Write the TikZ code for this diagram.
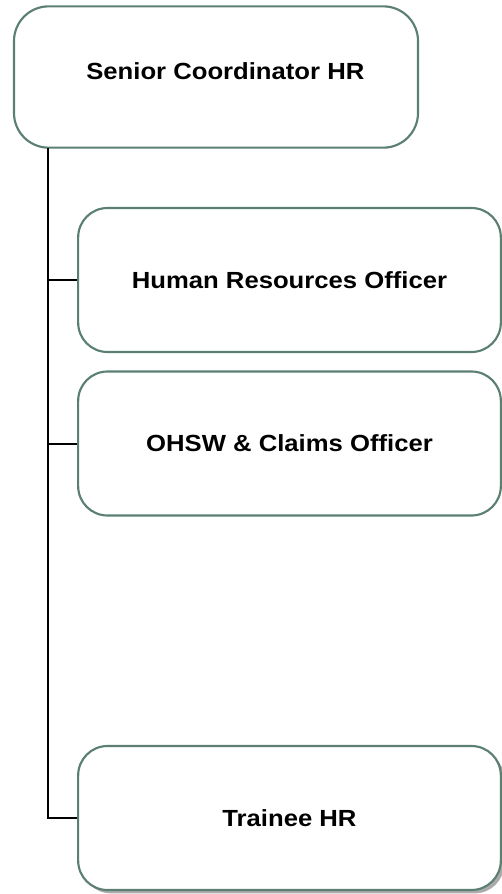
\documentclass[tikz,border=0pt]{standalone}
\usepackage{fontspec}
\newfontfamily\boxfont{Liberation Sans}[FakeStretch=1.1]
\usepackage{tikz}
\usetikzlibrary{shadows}
\definecolor{boxline}{HTML}{5B7F70}

\begin{document}
\begin{tikzpicture}[x=0.75pt,y=-0.75pt,
    unit/.style={draw=boxline,line width=1.6pt,fill=white,rounded corners=22pt,
      minimum width=317pt,minimum height=108pt,
      font=\boxfont\fontsize{17.5}{21}\bfseries},
    head/.style={unit,rounded corners=26pt,minimum width=303pt,minimum height=106pt},
    link/.style={line width=1.5pt}]

    % page
    \useasboundingbox (0,0) rectangle (502,894);

    % boxes
    \node[head] (senior) at (216,77) {\hspace*{14pt}Senior Coordinator HR\raisebox{0pt}[0pt][9pt]{}};
    \node[unit] (hro) at (289.5,280) {Human Resources Officer};
    \node[unit] (ohsw) at (289.5,443.5) {OHSW \& Claims Officer};
    \node[unit,drop shadow={shadow xshift=2.5pt,shadow yshift=-2.5pt,opacity=.6,fill=black!55}] (trainee) at (289.5,818) {Trainee HR};

    % lines
    \coordinate (trunk) at (48,148);
    \draw[link] (trunk) |- (hro.west);
    \draw[link] (trunk) |- (ohsw.west);
    \draw[link] (trunk) |- (trainee.west);
\end{tikzpicture}
\end{document}
